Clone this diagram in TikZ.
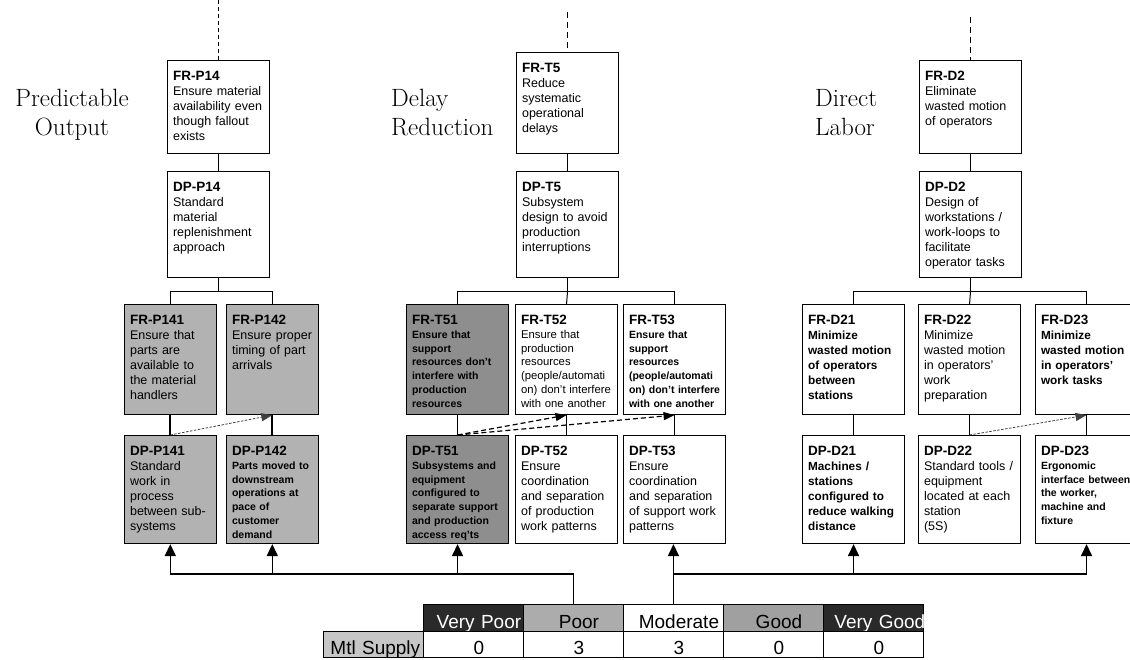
\documentclass[tikz,border=0pt]{standalone}
\usepackage{fontspec}
\setsansfont{Liberation Sans}
\usetikzlibrary{arrows.meta}

\definecolor{rqgrey}{RGB}{178,178,178}
\definecolor{rqdark}{RGB}{142,142,142}
\definecolor{cellblack}{RGB}{42,42,42}
\definecolor{cellpoor}{RGB}{172,172,172}
\definecolor{cellgood}{RGB}{160,160,160}
\definecolor{cellmtl}{RGB}{198,198,198}

\newcommand\rqbody{\sffamily\fontsize{12.5pt}{15pt}\selectfont}
\newcommand\rqbf{\sffamily\bfseries\fontsize{11.8pt}{15pt}\selectfont}
\newcommand\rqsmall{\sffamily\fontsize{11.3pt}{13.8pt}\selectfont}
\newcommand\rqsmallbf{\sffamily\bfseries\fontsize{10.5pt}{13.8pt}\selectfont}
\newcommand\rqid[1]{{\fontsize{13.5pt}{15pt}\selectfont\bfseries #1}\\}
\newcommand\ttlfont{\rmfamily\fontsize{25pt}{29pt}\selectfont}
\newcommand\tabfont{\sffamily\fontsize{19pt}{22pt}\selectfont}
\newcommand\cellv[1]{\mbox{\hspace*{11pt}#1}}

\begin{document}
\begin{tikzpicture}[x=1pt,y=-1pt,
  rq/.style={draw,line width=1.1pt,anchor=north west,align=left,inner xsep=5.5pt,
    inner ysep=0pt,text width=91pt,text height=20pt,font=\rqbody},
  fr0/.style={rq,text depth=73pt},
  dp0/.style={rq,text depth=86pt},
  fr1/.style={rq,text depth=90pt},
  dp1/.style={rq,text depth=88pt},
  slim/.style={text width=80.5pt},
  lite/.style={fill=rqgrey},
  dark/.style={fill=rqdark},
  ttl/.style={font=\ttlfont,inner sep=0pt,text width=150pt},
  stem/.style={line width=1pt},
  stemb/.style={line width=1.8pt},
  upl/.style={line width=1.3pt,dash pattern=on 6pt off 4pt},
  dep/.style={line width=.8pt,black!75,dash pattern=on 2.5pt off 1.5pt,
    -{Triangle[length=11pt,width=8pt]}},
  depd/.style={line width=1.2pt,dash pattern=on 5pt off 3pt,
    -{Triangle[length=11pt,width=8pt]}},
  feed/.style={line width=1.6pt},
  feeda/.style={feed,-{Triangle[length=12pt,width=11pt]}},
  tc/.style={draw,line width=.9pt,anchor=north west,inner sep=0pt,
    text width=100pt,align=center,font=\tabfont},
  hd/.style={tc,text height=24pt,text depth=3pt},
  dt/.style={tc,fill=white,text height=23pt,text depth=3pt}]
\path[use as bounding box,fill=white] (0,0) rectangle (1130,660);

% column titles
\node[ttl,align=center,anchor=base] (tpred) at (72,107) {Predictable\\Output};
\node[ttl,anchor=base west] (tdelay) at (391,107) {Delay\\Reduction};
\node[ttl,anchor=base west] (tlabor) at (815,107) {Direct\\Labor};

% predictable output branch
\node[fr0] (frp14) at (167,60) {\rqid{FR-P14}Ensure material\\availability even\\though fallout\\exists};
\node[dp0] (dpp14) at (167,171) {\rqid{DP-P14}Standard\\material\\replenishment\\approach};
\node[fr1,slim,lite] (frp141) at (124,304) {\rqid{FR-P141}Ensure that\\parts are\\available to\\the material\\handlers};
\node[fr1,slim,lite] (frp142) at (226,304) {\rqid{FR-P142}Ensure proper\\timing of part\\arrivals};
\node[dp1,slim,lite] (dpp141) at (124,435) {\rqid{DP-P141}Standard\\work in\\process\\between sub-\\systems};
\node[dp1,slim,lite,font=\rqsmallbf] (dpp142) at (226,435) {\rqid{DP-P142}Parts moved to\\downstream\\operations at\\pace of\\customer\\demand};

% delay reduction branch
\node[rq,text depth=81pt] (frt5) at (516,52) {\rqid{FR-T5}Reduce\\systematic\\operational\\delays};
\node[dp0] (dpt5) at (516,171) {\rqid{DP-T5}Subsystem\\design to avoid\\production\\interruptions};
\node[fr1,dark,font=\rqsmallbf] (frt51) at (406,304) {\rqid{FR-T51}Ensure that\\support\\resources don't\\interfere with\\production\\resources};
\node[fr1,font=\rqsmall] (frt52) at (515,304) {\rqid{FR-T52}Ensure that\\production\\resources\\(people/automati\\on) don't interfere\\with one another};
\node[fr1,font=\rqsmallbf] (frt53) at (623,304) {\rqid{FR-T53}Ensure that\\support\\resources\\(people/automati\\on) don't interfere\\with one another};
\node[dp1,dark,font=\rqsmallbf] (dpt51) at (406,435) {\rqid{DP-T51}Subsystems and\\equipment\\configured to\\separate support\\and production\\access req'ts};
\node[dp1] (dpt52) at (515,435) {\rqid{DP-T52}Ensure\\coordination\\and separation\\of production\\work patterns};
\node[dp1] (dpt53) at (623,435) {\rqid{DP-T53}Ensure\\coordination\\and separation\\of support work\\patterns};

% direct labor branch
\node[fr0] (frd2) at (919,60) {\rqid{FR-D2}Eliminate\\wasted motion\\of operators};
\node[dp0] (dpd2) at (919,171) {\rqid{DP-D2}Design of\\workstations /\\work-loops to\\facilitate\\operator tasks};
\node[fr1,font=\rqbf] (frd21) at (802,304) {\rqid{FR-D21}Minimize\\wasted motion\\of operators\\between\\stations};
\node[fr1] (frd22) at (918,304) {\rqid{FR-D22}Minimize\\wasted motion\\in operators'\\work\\preparation};
\node[fr1,font=\rqbf] (frd23) at (1035,304) {\rqid{FR-D23}Minimize\\wasted motion\\in operators'\\work tasks};
\node[dp1,font=\rqbf] (dpd21) at (802,435) {\rqid{DP-D21}Machines /\\stations\\configured to\\reduce walking\\distance};
\node[dp1] (dpd22) at (918,435) {\rqid{DP-D22}Standard tools /\\equipment\\located at each\\station\\(5S)};
\node[dp1,font=\rqsmallbf] (dpd23) at (1035,435) {\rqid{DP-D23}Ergonomic\\interface between\\the worker,\\machine and\\fixture};

% links from above
\coordinate (upp) at (frp14.north |- 0,0);
\coordinate (upt) at (frt5.north |- 0,12);
\coordinate (upd) at (frd2.north |- 0,17);
\draw[upl,line width=1pt,dash pattern=on 4pt off 3pt] (upp) -- (frp14.north);
\draw[upl] (upt) -- (frt5.north);
\draw[upl] (upd) -- (frd2.north);

% FR-DP pairs and decomposition
\draw[stem] (frp14) -- (dpp14);
\draw[stem] (frt5) -- (dpt5);
\draw[stem] (frd2) -- (dpd2);
\draw[stem] (dpp14.south) -- ++(0,13) coordinate (barp);
\draw[stem] (frp141.north) |- (barp) -| (frp142.north);
\draw[stem] (dpt5.south) -- ++(0,13) coordinate (bart);
\draw[stem] (frt51.north) |- (bart) -| (frt53.north);
\draw[stem] (bart) -- (frt52.north);
\draw[stem] (dpd2.south) -- ++(0,13) coordinate (bard);
\draw[stem] (frd21.north) |- (bard) -| (frd23.north);
\draw[stem] (bard) -- (frd22.north);
\draw[stemb] (frp141) -- (dpp141);
\draw[stemb] (frp142) -- (dpp142);
\draw[stem] (frt51) -- (dpt51);
\draw[stem] (frt52) -- (dpt52);
\draw[stem] (frt53) -- (dpt53);
\draw[stemb] (frd21) -- (dpd21);
\draw[stemb] (frd22) -- (dpd22);
\draw[stemb] (frd23) -- (dpd23);

% off-diagonal couplings
\draw[dep] (dpp141.north) -- (frp142.south);
\draw[depd] (dpt51.north) -- (frt52.south);
\draw[depd] (dpt51.north) -- (frt53.south);
\draw[dep] (dpd22.north) -- (frd23.south);

% rating table
\node[hd,fill=cellblack,text=white] (vpoor) at (423,604) {\cellv{Very Poor}};
\node[hd,fill=cellpoor] (poor) at (523,604) {\cellv{Poor}};
\node[hd,fill=white] (moder) at (623,604) {\cellv{Moderate}};
\node[hd,fill=cellgood] (good) at (723,604) {\cellv{Good}};
\node[hd,fill=cellblack,text=white] (vgood) at (823,604) {\cellv{Very Good}};
\node[dt,fill=cellmtl,align=left,text width=86pt,inner xsep=7pt] (mtl) at (323,631) {\mbox{Mtl Supply}};
\node[dt] (vpoorv) at (423,631) {\cellv{0}};
\node[dt] (poorv) at (523,631) {\cellv{3}};
\node[dt] (moderv) at (623,631) {\cellv{3}};
\node[dt] (goodv) at (723,631) {\cellv{0}};
\node[dt] (vgoodv) at (823,631) {\cellv{0}};

% rating feeds
\coordinate (busl) at (dpp141.south |- 0,574);
\coordinate (busr) at (dpd23.south |- busl);
\draw[feed] (poor.north) |- (busl);
\draw[feeda] (busl) -- (dpp141.south);
\draw[feeda] (dpp142.south |- busl) -- (dpp142.south);
\draw[feeda] (dpt51.south |- busl) -- (dpt51.south);
\draw[feeda] (moder.north) -- (moder.north |- dpt53.south);
\draw[feed] (moder.north |- busl) -- (busr);
\draw[feeda] (dpd21.south |- busl) -- (dpd21.south);
\draw[feeda] (busr) -- (dpd23.south);
\end{tikzpicture}
\end{document}
